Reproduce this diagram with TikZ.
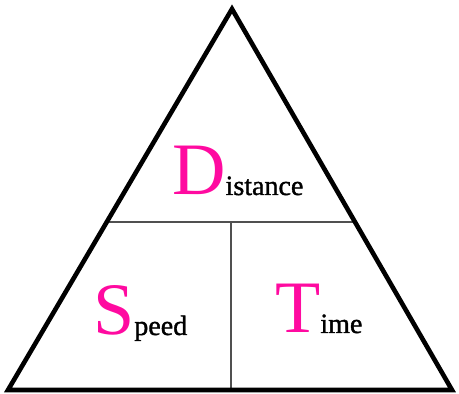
\documentclass[tikz,border=0pt]{standalone}
\usepackage{fontspec}
\setmainfont{Liberation Serif}
\newfontfamily\heavyserif{Liberation Serif}[FakeBold=1.3]
\usetikzlibrary{calc}
\definecolor{pinkc}{HTML}{FF0AA0}
\definecolor{gridc}{HTML}{505050}

\newcommand{\bigini}[2]{{\fontsize{74}{74}\selectfont\color{pinkc}#1}{\heavyserif\fontsize{28}{28}\selectfont #2}}

\begin{document}
\begin{tikzpicture}[x=1pt, y=1pt,
      tri/.style={draw=black, line width=4.6pt, line join=miter},
      sep/.style={draw=gridc, line width=2pt},
      word/.style={inner sep=0pt, anchor=base west}]
    \useasboundingbox (0,0) rectangle (459,394);
    \coordinate (A) at (232,385);
    \coordinate (L) at (8,4);
    \coordinate (R) at (452,4);
    \coordinate (HL) at ($(L)!0.441!(A)$);
    \coordinate (HR) at ($(R)!0.441!(A)$);
    \coordinate (VT) at ($(HL)!0.5!(HR)$);
    \coordinate (VB) at (VT |- L);
    \draw[sep] (HL) -- (HR);
    \draw[sep] (VT) -- (VB);
    \draw[tri] (A) -- (L) -- (R) -- cycle;
    \node[word] (dist) at (172,199) {\bigini{D}{istance}};
    \node[word] (speed) at (93,59) {\bigini{S}{peed}};
    \node[word] (time) at (275,61) {\bigini{T}{ime}};
  \end{tikzpicture}
\end{document}
